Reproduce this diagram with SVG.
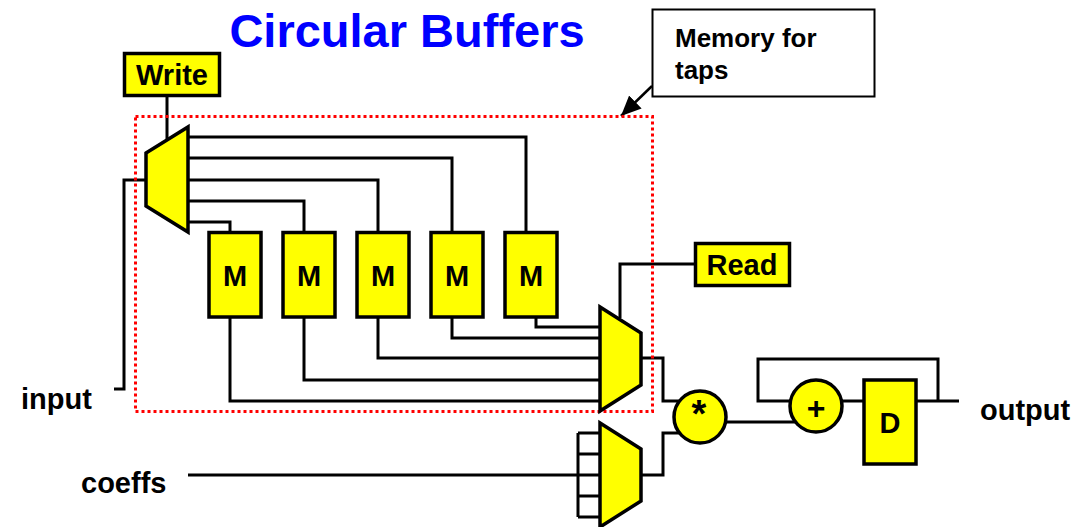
<svg xmlns="http://www.w3.org/2000/svg" width="1080" height="527" viewBox="0 0 1080 527">
<style>
text{font-family:"Liberation Sans",Arial,sans-serif;font-weight:bold;fill:#000}
.n{fill:#ff0;stroke:#000;stroke-width:3.500}
.w{fill:none;stroke:#000;stroke-width:3}
.l{font-size:29px}
.m{font-size:29px;text-anchor:middle}
</style>
<defs><marker id="a" markerUnits="userSpaceOnUse" markerWidth="22" markerHeight="20" refX="20" refY="10" orient="auto"><path d="M0 1L20 10L0 19Z" fill="#000"/></marker></defs>
<rect width="1080" height="527" fill="#fff"/>
<text x="407" y="47" font-size="47" text-anchor="middle" style="fill:#00f">Circular Buffers</text>
<g id="connectors">
<path class="w" d="M167 96V140M114 389H124V180H146M188 137H526V232M188 158H452V232M188 180H378V232M188 201H304V232M188 222H230V232"/>
<path class="w" d="M230 317V401H600M304 317V380H600M378 317V358H600M452 317V338H600M536 317V327H600"/>
<path class="w" d="M620 318V264H695M641 358H663V401H680M641 475H663V433H680M726 422H800M188 475H600M578 433H600M578 454H600M578 496H600M578 517H600M578 433V517"/>
<path class="w" d="M800 401H758V359H938V401M842 401H864M917 401H959"/>
<path d="M652 86L621 116" stroke="#000" stroke-width="2.500" fill="none" marker-end="url(#a)"/>
</g>
<rect id="memory-region" x="135.500" y="116.500" width="517" height="295" fill="none" stroke="#f00" stroke-width="3" stroke-dasharray="3 3"/>
<g id="title-note"><rect x="652.500" y="9.500" width="222" height="87" fill="#fff" stroke="#000" stroke-width="2"/><text x="675" y="47" font-size="26">Memory for</text><text x="675" y="79" font-size="26">taps</text></g>
<g id="write"><rect class="n" x="124.500" y="53.500" width="95" height="42"/><text class="m" x="172" y="85">Write</text></g>
<g id="read"><rect class="n" x="695.500" y="243.500" width="94" height="42"/><text class="m" x="742" y="275">Read</text></g>
<g id="demux"><path class="n" d="M188 127V232L146 206V153Z"/></g>
<g id="m1"><rect class="n" x="209" y="232.500" width="52" height="84.500"/><text class="m" x="235" y="286">M</text></g>
<g id="m2"><rect class="n" x="283" y="232.500" width="52" height="84.500"/><text class="m" x="309" y="286">M</text></g>
<g id="m3"><rect class="n" x="357" y="232.500" width="52" height="84.500"/><text class="m" x="383" y="286">M</text></g>
<g id="m4"><rect class="n" x="431" y="232.500" width="52" height="84.500"/><text class="m" x="457" y="286">M</text></g>
<g id="m5"><rect class="n" x="505" y="232.500" width="52" height="84.500"/><text class="m" x="531" y="286">M</text></g>
<g id="mux1"><path class="n" d="M600 307V411L641 385V333Z"/></g>
<g id="mux2"><path class="n" d="M600 423V527L641 501V449Z"/></g>
<g id="mult"><circle class="n" cx="700" cy="417" r="26"/><text x="699" y="427" font-size="38" text-anchor="middle">*</text></g>
<g id="adder"><circle class="n" cx="816" cy="406" r="26"/><text x="816" y="419" font-size="32" text-anchor="middle">+</text></g>
<g id="delay"><rect class="n" x="864" y="380" width="52" height="84"/><text class="m" x="890" y="433">D</text></g>
<g id="labels"><text class="l" x="21" y="409">input</text><text class="l" x="81" y="493">coeffs</text><text class="l" x="980" y="420">output</text></g>
</svg>
